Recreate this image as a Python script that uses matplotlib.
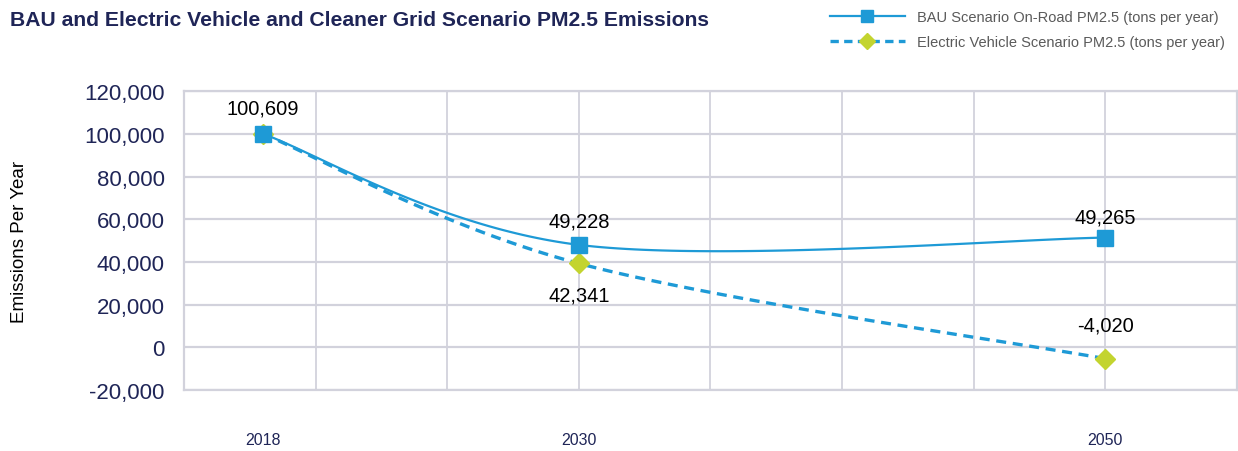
import numpy as np
import matplotlib.pyplot as plt
from matplotlib.lines import Line2D
from matplotlib.ticker import FuncFormatter

# data
years = [2018, 2030, 2050]
bau = [100000, 48000, 51400]
ev = [100000, 39300, -5300]
bau_labels = ["100,609", "49,228", "49,265"]
ev_labels = [None, "42,341", "-4,020"]

title = "BAU and Electric Vehicle and Cleaner Grid Scenario PM2.5 Emissions"
bau_name = "BAU Scenario On-Road PM2.5 (tons per year)"
ev_name = "Electric Vehicle Scenario PM2.5 (tons per year)"

NAVY = "#1f2557"
BLUE = "#1e9ad6"
GREEN = "#c3d42f"
GRID = "#d2d2dc"

plt.rcParams['font.family'] = ['Liberation Sans', 'DejaVu Sans']


def smooth(xs, ys, n=60):
    # excel-style smoothed line: cubic bezier with 1/6 tangents
    p = np.column_stack([xs, ys]).astype(float)
    pts = np.vstack([p[0], p, p[-1]])
    out = []
    for i in range(1, len(pts) - 2):
        p0, p1, p2, p3 = pts[i - 1], pts[i], pts[i + 1], pts[i + 2]
        c1 = p1 + (p2 - p0) / 6.0
        c2 = p2 - (p3 - p1) / 6.0
        t = np.linspace(0, 1, n)[:, None]
        seg = ((1 - t) ** 3) * p1 + 3 * ((1 - t) ** 2) * t * c1 \
            + 3 * (1 - t) * t ** 2 * c2 + t ** 3 * p2
        out.append(seg)
    out = np.vstack(out)
    return out[:, 0], out[:, 1]


fig = plt.figure(figsize=(12.38, 4.52), dpi=100)
ax = fig.add_axes([0.1486, 0.135, 0.8504, 0.661])

sx, sy = smooth(years, bau)
ax.plot(sx, sy, color=BLUE, lw=1.6, zorder=3)
ax.plot(years, bau, ls="none", marker="s", ms=11, color=BLUE, zorder=5)

ex, ey = smooth(years, ev)
ax.plot(ex, ey, color=BLUE, lw=2.4, ls=(0, (3, 2)), zorder=3)
ax.plot(years, ev, ls="none", marker="D", ms=10, color=GREEN, zorder=4)

bau_off = [(0, 19), (0, 17), (0, 15)]
ev_off = [None, (0, -23), (0, 24)]
for x, y, s, o in zip(years, bau, bau_labels, bau_off):
    ax.annotate(s, (x, y), xytext=o, textcoords="offset points",
                ha="center", va="center", fontsize=14.5, color="black")
for x, y, s, o in zip(years, ev, ev_labels, ev_off):
    if s is None:
        continue
    ax.annotate(s, (x, y), xytext=o, textcoords="offset points",
                ha="center", va="center", fontsize=14.5, color="black")

ax.set_xlim(2015, 2055)
ax.set_ylim(-20000, 120000)
ax.set_yticks(np.arange(-20000, 120001, 20000))
ax.yaxis.set_major_formatter(FuncFormatter(lambda v, p: f"{v:,.0f}"))
ax.set_xticks(years)
ax.set_xticklabels([str(y) for y in years])

# vertical grid every 5 years (2030/2050 sit on it too)
for gx in np.arange(2020, 2055, 5):
    ax.axvline(gx, color=GRID, lw=1.3, zorder=0)
ax.grid(True, which="major", axis="y", color=GRID, lw=1.6)
ax.set_axisbelow(True)
for sp in ax.spines.values():
    sp.set_color(GRID)
    sp.set_linewidth(1.6)

ax.tick_params(axis="y", length=0, pad=14, labelsize=16, labelcolor=NAVY)
ax.tick_params(axis="x", length=0, pad=30, labelsize=11.5, labelcolor=NAVY)
ax.set_ylabel("Emissions Per Year", fontsize=13.5, color="black")
ax.yaxis.set_label_coords(-0.148, 0.5)

fig.text(0.008, 0.955, title, fontsize=15.2, fontweight="bold", color=NAVY,
         ha="left", va="center")

handles = [
    Line2D([], [], color=BLUE, lw=1.6, marker="s", ms=9, markerfacecolor=BLUE),
    Line2D([], [], color=BLUE, lw=2.4, ls=(0, (2.5, 1.6)), marker="D", ms=8,
           markerfacecolor=GREEN, markeredgecolor=GREEN),
]
leg = fig.legend(handles, [bau_name, ev_name], loc="upper right",
                 bbox_to_anchor=(1.0, 1.005), frameon=False, fontsize=10.5,
                 handlelength=5.2, handletextpad=0.8, labelspacing=0.75)
for t in leg.get_texts():
    t.set_color("#5a5a5a")

fig.savefig("out.png", dpi=100)
